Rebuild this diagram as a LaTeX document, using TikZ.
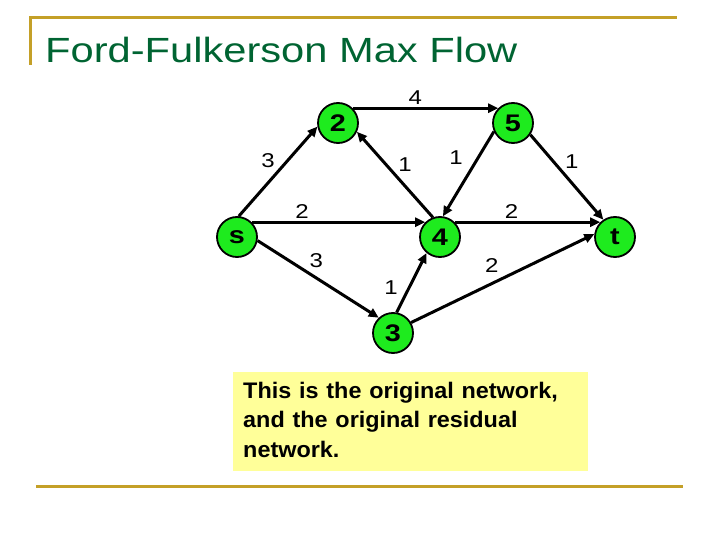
\documentclass[tikz,border=0pt]{standalone}
\usepackage{fontspec}
\setmainfont{Liberation Sans}
\usepackage{graphicx}
\usetikzlibrary{arrows.meta}
\definecolor{rulegold}{RGB}{196,160,40}
\definecolor{titlegreen}{RGB}{0,100,50}
\definecolor{vertgreen}{RGB}{30,235,30}
\definecolor{noteyellow}{RGB}{255,255,153}
\newcommand{\wtxt}[1]{\scalebox{1.2}[1]{#1}}

\begin{document}
\begin{tikzpicture}[x=1pt, y=-1pt,
    vert/.style={circle, draw, line width=1.8pt, fill=vertgreen, minimum size=40pt, inner sep=0pt, font=\fontsize{24}{24}\selectfont\bfseries},
    flow/.style={line width=3pt, -{Triangle[length=10pt, width=9pt]}},
    wt/.style={font=\fontsize{20}{20}\selectfont, inner sep=2pt},
    goldline/.style={rulegold, line width=3pt}]
    \useasboundingbox (0,0) rectangle (720,540);

    % Slide frame
    \draw[goldline] (29,18) -- (677,18);
    \draw[goldline] (30,17) -- (30,65);
    \draw[goldline] (36,486) -- (683,486);

    % Title
    \node[anchor=base west, inner sep=0pt, text=titlegreen, font=\fontsize{35}{40}\selectfont] (title) at (45,63)
        {\scalebox{1.19}[1]{Ford-Fulkerson Max Flow}};

    % Vertices
    \node[vert] (s) at (237,237) {\wtxt{s}};
    \node[vert] (n2) at (338,123) {\wtxt{2}};
    \node[vert] (n5) at (513,123) {\wtxt{5}};
    \node[vert] (n4) at (440,237) {\wtxt{4}};
    \node[vert] (n3) at (393,333) {\wtxt{3}};
    \node[vert] (t) at (615,237) {\wtxt{t}};

    % Edges with capacities
    \draw[flow] (s.85) -- node[wt, above left] {\wtxt{3}} (n2.190);
    \draw[flow] (n2.north east) -- node[wt, pos=0.43, above] {\wtxt{4}} (n5.north west);
    \draw[flow] (n4.110) -- node[wt, above right] {\wtxt{1}} (n2.-25);
    \draw[flow] (n5.204) -- node[wt, pos=0.31, left=12pt] {\wtxt{1}} (n4.82);
    \draw[flow] (n5.-34) -- node[wt, pos=0.32, right=8pt] {\wtxt{1}} (t.124);
    \draw[flow] (s.north east) -- node[wt, pos=0.29, above] {\wtxt{2}} (n4.north west);
    \draw[flow] (n4.north east) -- node[wt, pos=0.39, above] {\wtxt{2}} (t.north west);
    \draw[flow] (s.-10) -- node[wt, pos=0.4, above right] {\wtxt{3}} (n3.133);
    \draw[flow] (n3.80) -- node[wt, pos=0.42, left=8pt] {\wtxt{1}} (n4.230);
    \draw[flow] (n3.30) -- node[wt, pos=0.44, above=8pt] {\wtxt{2}} (t.172);

    % Note
    \node[anchor=north west, fill=noteyellow, inner xsep=10pt, inner ysep=5.35pt, text width=335pt, align=left,
          font=\fontsize{22.5}{29.5}\selectfont\bfseries] (note) at (233,372)
        {\scalebox{1.04}[1]{\begin{tabular}{@{}l@{}}This is the original network,\\and the original residual\\network.\end{tabular}}};

\end{tikzpicture}
\end{document}
